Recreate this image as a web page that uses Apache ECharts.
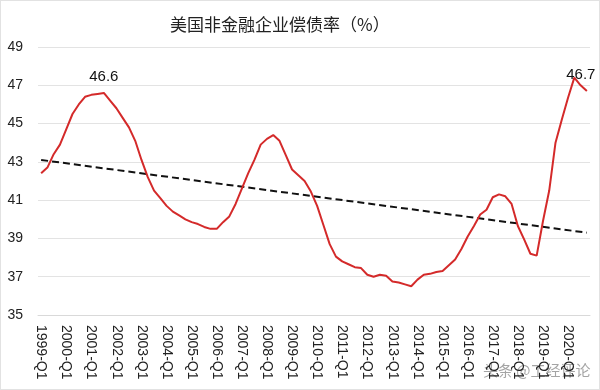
<!DOCTYPE html>
<html><head><meta charset="utf-8">
<script src="https://cdn.jsdelivr.net/npm/echarts@6/dist/echarts.min.js"></script>
<style>html,body{margin:0;padding:0;background:#fff}#c{width:600px;height:390px;box-sizing:border-box;border:1px solid #e2e2e2}</style>
</head><body><div id="c"></div>
<script>
var titleText = '美国非金融企业偿债率（%）';
var startYear = 1999, endYear = 2020;
var categories = [];
for (var y = startYear; y <= endYear; y++) { for (var q = 1; q <= 4; q++) categories.push(y + '-Q' + q); }
var ratio = [42.4,42.7,43.4,43.9,44.7,45.5,46.0,46.4,46.5,46.55,46.6,46.2,45.8,45.3,44.8,44.1,
  43.1,42.2,41.5,41.1,40.7,40.4,40.2,40.0,39.85,39.75,39.6,39.5,39.5,39.85,40.15,40.8,
  41.6,42.4,43.1,43.9,44.2,44.4,44.1,43.35,42.6,42.3,42.0,41.45,40.7,39.7,38.7,38.05,
  37.8,37.65,37.5,37.45,37.1,37.0,37.1,37.05,36.75,36.7,36.6,36.5,36.85,37.1,37.15,37.25,
  37.3,37.6,37.9,38.45,39.1,39.65,40.25,40.5,41.15,41.3,41.2,40.8,39.65,38.95,38.2,38.1,
  39.9,41.5,44.0,45.2,46.35,47.4,47.0,46.7];
var trendEnds = [43.1, 39.3];
var labelledIdx = [10, 87];
var yTicks = {min: 35, max: 49, step: 2};
var watermark = '头条 @工经评论';

var markData = labelledIdx.map(function (i) {
  var last = i === ratio.length - 1;
  return {coord: [categories[i], ratio[i]], value: ratio[i].toFixed(1),
    label: {offset: last ? [-6, 0] : [0, 0]}};
});
var trendData = [[categories[0], trendEnds[0]], [categories[categories.length - 1], trendEnds[1]]];

var chart = echarts.init(document.getElementById('c'));
chart.setOption({
  animation: false,
  title: {text: titleText, left: 164, top: 10,
    textStyle: {fontFamily: 'Noto Sans CJK SC', fontSize: 17, fontWeight: 'normal', color: '#222'}},
  grid: {left: 37, right: 9, top: 46, bottom: 74, containLabel: false},
  xAxis: {type: 'category', data: categories, boundaryGap: true,
    axisLine: {lineStyle: {color: '#d9d9d9'}}, axisTick: {show: false},
    axisLabel: {interval: 3, rotate: -90, margin: 10, fontSize: 14, color: '#222', fontFamily: 'Liberation Sans'}},
  yAxis: {type: 'value', min: yTicks.min, max: yTicks.max, interval: yTicks.step,
    axisLine: {show: false}, axisTick: {show: false},
    axisLabel: {fontSize: 14, color: '#222', margin: 15, fontFamily: 'Liberation Sans'},
    splitLine: {lineStyle: {color: '#e3e3e3', width: 1}}},
  graphic: [{type: 'text', left: 481, top: 361, silent: true,
    style: {text: watermark, fontSize: 15, fontFamily: 'Noto Sans CJK SC', fill: 'rgba(90,90,90,0.55)',
      stroke: 'rgba(255,255,255,0.7)', lineWidth: 2}}],
  series: [
    {type: 'line', data: ratio, symbol: 'none', smooth: false,
      lineStyle: {color: '#d42a2a', width: 2}, z: 3,
      markPoint: {symbol: 'circle', symbolSize: 2, silent: true,
        itemStyle: {color: 'rgba(0,0,0,0)'},
        label: {show: true, position: 'top', distance: 8, fontSize: 15, color: '#111',
          fontFamily: 'Liberation Sans', formatter: '{c}'},
        data: markData}},
    {type: 'line', data: trendData, symbol: 'none',
      lineStyle: {color: '#111', width: 2, type: [7, 4]}, z: 2}
  ]
});
</script></body></html>
